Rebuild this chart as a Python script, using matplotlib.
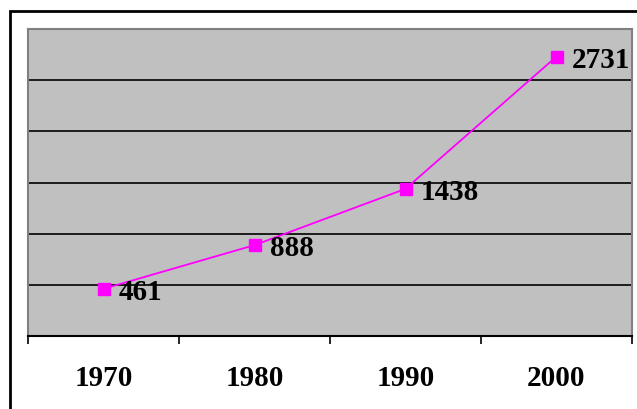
import matplotlib.pyplot as plt
from matplotlib.patches import Rectangle
from matplotlib.ticker import FixedLocator

years = ["1970", "1980", "1990", "2000"]
values = [461, 888, 1438, 2731]

fig = plt.figure(figsize=(6.37, 4.10), dpi=100)
fig.patch.set_facecolor("white")

# outer frame, cut off on the right and bottom like the source
fig.add_artist(Rectangle((10 / 637, -0.1), 1.2, 1 - 12 / 410 + 0.1,
                         transform=fig.transFigure, fill=False,
                         edgecolor="black", linewidth=2.0))

ax = fig.add_axes([28 / 637, 1 - 337 / 410, (632 - 28) / 637, (337 - 30) / 410])
ax.set_facecolor("#C0C0C0")

x = list(range(len(years)))
ax.plot(x, values, color="#FF00FF", linewidth=1.3, marker="s",
        markersize=9, markerfacecolor="#FF00FF", markeredgecolor="#FF00FF",
        zorder=3)

for xi, v in zip(x, values):
    ax.annotate(str(v), (xi, v), xytext=(11, -2), textcoords="offset points",
                ha="left", va="center", fontsize=21, fontweight="bold",
                family="Liberation Serif", zorder=4)

ax.set_xlim(-0.5, len(years) - 0.5)
ax.set_ylim(0, 3000)

ax.set_yticks(range(500, 3000, 500))
ax.yaxis.grid(True, color="black", linewidth=1.2)
ax.tick_params(axis="y", left=False, labelleft=False)

ax.set_xticks(x)
ax.set_xticklabels(years, fontsize=21, fontweight="bold", family="Liberation Serif")
ax.xaxis.set_minor_locator(FixedLocator([i - 0.5 for i in range(len(years) + 1)]))
ax.tick_params(axis="x", which="major", length=0, pad=20)
ax.tick_params(axis="x", which="minor", length=6, width=1.2, direction="out", color="black")

for side in ["left", "top", "right"]:
    ax.spines[side].set_color("#808080")
    ax.spines[side].set_linewidth(1.5)
ax.spines["bottom"].set_color("black")
ax.spines["bottom"].set_linewidth(1.5)
ax.set_axisbelow(True)

fig.savefig("out.png", dpi=100)
